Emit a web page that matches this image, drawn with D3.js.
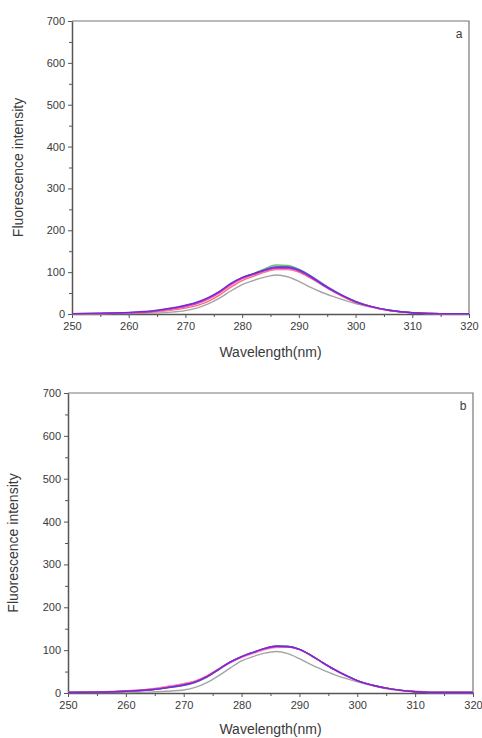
<!DOCTYPE html>
<html>
<head>
<meta charset="utf-8">
<title>Fluorescence spectra</title>
<script src="https://d3js.org/d3.v7.min.js"></script>
<style>
  body { margin: 0; background: #fff; }
  text { font-family: "Liberation Sans", Arial, sans-serif; fill: #3a3a3a; }
  .domain, .tick line { stroke: #555; }
</style>
</head>
<body>
<script>
// wavelength grid (nm)
const wavelengths = [250,255,260,264,267,270,272,274,276,278,280,282,284,286,288,290,292,294,296,298,300,303,306,310,315,320];

const seriesNames = ["gray", "red", "pink", "green", "blue", "magenta", "purple"];
const seriesColors = ["#9a9a9a", "#ff5a5a", "#ff9ccf", "#5cb85c", "#4a5ae0", "#d23ad2", "#7a22d0"];

// panel a
const panelA = [
  [1,1,1,2,4,8,14,24,38,55,70,80,88,93,89,78,64,52,42,33,25,16,8,3,1,1],
  [1,1,2,4,8,14,20,30,45,64,80,90,100,106,106,100,86,70,54,40,28,16,8,3,1,1],
  [1,1,2,5,10,17,24,35,50,68,84,94,102,108,108,102,88,71,55,41,29,16,8,3,1,1],
  [1,1,3,6,12,20,27,38,53,72,87,97,108,117,116,107,92,74,57,42,30,17,9,3,1,1],
  [1,2,3,6,12,20,27,38,53,72,87,96,106,113,113,106,92,74,57,42,30,17,9,3,1,1],
  [1,1,3,6,11,18,25,36,51,70,85,94,103,109,109,102,88,71,55,41,29,17,8,3,1,1],
  [1,2,4,7,13,21,28,39,54,73,87,96,105,111,111,104,90,72,56,42,29,17,9,3,1,1]
];

// panel b
const panelB = [
  [1,1,1,2,4,7,13,24,40,58,75,85,93,97,92,80,66,54,43,34,26,16,8,3,1,1],
  [2,3,5,9,15,22,28,40,56,72,84,93,102,107,108,102,88,71,55,41,29,17,9,4,2,2],
  [2,3,5,9,14,21,27,38,54,70,83,92,101,106,107,101,87,70,54,40,28,16,8,3,2,2],
  [1,2,4,7,12,18,25,37,54,72,85,95,104,110,109,102,88,71,55,41,29,17,9,3,1,1],
  [1,2,4,7,12,18,25,37,54,72,85,95,104,110,109,102,88,71,55,41,29,17,9,3,1,1],
  [1,2,4,8,13,20,26,38,55,71,84,94,103,108,108,102,88,71,55,41,29,17,9,3,1,1],
  [1,2,4,7,12,19,26,38,55,72,85,95,104,109,108,102,88,71,55,41,29,17,9,3,1,1]
];

const xTicks = [250,260,270,280,290,300,310,320];
const yTicks = [0,100,200,300,400,500,600,700];

const svg = d3.select("body").append("svg")
  .attr("width", 482)
  .attr("height", 738);

function drawPanel(values, letter, box) {
  const x = d3.scaleLinear().domain([250, 320]).range([box.left, box.right]);
  const y = d3.scaleLinear().domain([0, 700]).range([box.bottom, box.top]);
  const g = svg.append("g");

  // frame (top + right)
  g.append("path")
    .attr("d", `M${box.left},${box.top}H${box.right}V${box.bottom}`)
    .attr("fill", "none").attr("stroke", "#777").attr("stroke-width", 1.2);

  // minor ticks
  const minorX = d3.axisBottom(x).tickValues(d3.range(255, 320, 10)).tickSize(3).tickFormat("");
  g.append("g").attr("transform", `translate(0,${box.bottom})`).call(minorX)
    .call(s => s.select(".domain").remove());
  const minorY = d3.axisLeft(y).tickValues(d3.range(50, 700, 100)).tickSize(3).tickFormat("");
  g.append("g").attr("transform", `translate(${box.left},0)`).call(minorY)
    .call(s => s.select(".domain").remove());

  const xAxis = g.append("g").attr("transform", `translate(0,${box.bottom})`)
    .call(d3.axisBottom(x).tickValues(xTicks).tickSize(4).tickSizeOuter(0).tickPadding(4));
  xAxis.selectAll("text").style("font-size", "11px");
  xAxis.select(".domain").attr("stroke-width", 1.5);

  const yAxis = g.append("g").attr("transform", `translate(${box.left},0)`)
    .call(d3.axisLeft(y).tickValues(yTicks).tickSize(4).tickSizeOuter(0).tickPadding(3));
  yAxis.selectAll("text").style("font-size", "11px");
  yAxis.select(".domain").attr("stroke-width", 1.5);

  const line = d3.line()
    .x((d, i) => x(wavelengths[i]))
    .y(d => y(d))
    .curve(d3.curveMonotoneX);

  g.selectAll(".curve").data(values).enter().append("path")
    .attr("class", "curve")
    .attr("d", line)
    .attr("fill", "none")
    .attr("stroke", (d, i) => seriesColors[i])
    .attr("stroke-width", 1.4)
    .attr("opacity", 0.9);

  g.append("text")
    .attr("x", box.right - 10).attr("y", box.top + 17)
    .attr("text-anchor", "middle")
    .style("font-size", "12px")
    .text(letter);

  g.append("text")
    .attr("x", (box.left + box.right) / 2).attr("y", box.xTitle)
    .attr("text-anchor", "middle")
    .style("font-size", "14px")
    .text("Wavelength(nm)");

  g.append("text")
    .attr("transform", `translate(${box.yTitle},${(box.top + box.bottom) / 2}) rotate(-90)`)
    .attr("text-anchor", "middle")
    .style("font-size", "14px")
    .text("Fluorescence intensity");
}

drawPanel(panelA, "a", {left: 72, right: 469, top: 21, bottom: 314, xTitle: 357, yTitle: 23});
drawPanel(panelB, "b", {left: 68, right: 473, top: 393, bottom: 693, xTitle: 734, yTitle: 18});
</script>
</body>
</html>
